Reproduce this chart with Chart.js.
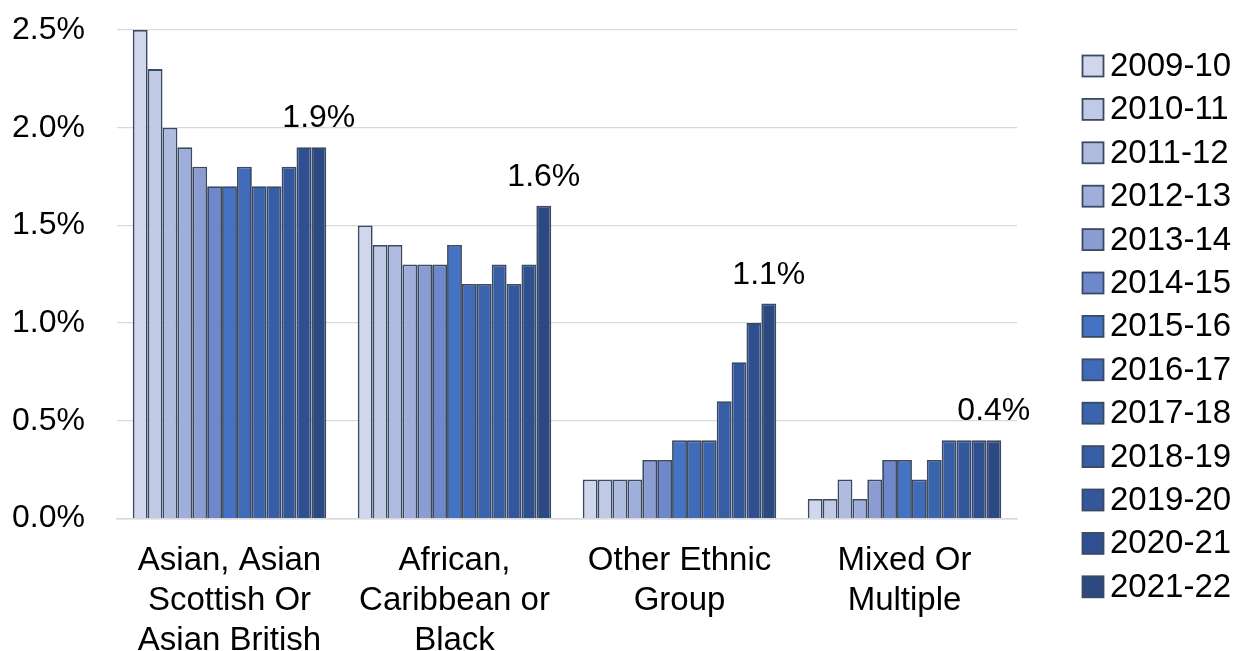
<!DOCTYPE html>
<html>
<head>
<meta charset="utf-8">
<script src="https://cdn.jsdelivr.net/npm/chart.js@4/dist/chart.umd.min.js"></script>
<style>
  html, body { margin: 0; padding: 0; background: #fff; }
  #wrap { width: 1237px; height: 651px; position: relative; }
</style>
</head>
<body>
<div id="wrap"><canvas id="c" width="1237" height="651"></canvas></div>
<script>
// Ethnic groups on the x axis (multi-line labels)
const groups = [
  ['Asian, Asian', 'Scottish Or', 'Asian British'],
  ['African,', 'Caribbean or', 'Black'],
  ['Other Ethnic', 'Group'],
  ['Mixed Or', 'Multiple']
];

// Academic years, one series each
const years = ['2009-10', '2010-11', '2011-12', '2012-13', '2013-14', '2014-15', '2015-16',
               '2016-17', '2017-18', '2018-19', '2019-20', '2020-21', '2021-22'];

// Share (%) per group, one value per year
const asian    = [2.5, 2.3, 2.0, 1.9, 1.8, 1.7, 1.7, 1.8, 1.7, 1.7, 1.8, 1.9, 1.9];
const african  = [1.5, 1.4, 1.4, 1.3, 1.3, 1.3, 1.4, 1.2, 1.2, 1.3, 1.2, 1.3, 1.6];
const other    = [0.2, 0.2, 0.2, 0.2, 0.3, 0.3, 0.4, 0.4, 0.4, 0.6, 0.8, 1.0, 1.1];
const mixed    = [0.1, 0.1, 0.2, 0.1, 0.2, 0.3, 0.3, 0.2, 0.3, 0.4, 0.4, 0.4, 0.4];

const yTicks = [0, 0.5, 1.0, 1.5, 2.0, 2.5];

const yearColours = ['#D0D6EC', '#C0C9E6', '#AFBCE0', '#9FAEDA', '#8A9CD2', '#6D88CB', '#4472C4',
                     '#3F6BB9', '#3B64AF', '#375DA5', '#33579A', '#2F5090', '#2C4982'];
const edge = '#3B4A63';
const FONT = '"Liberation Sans", Arial, sans-serif';

const datasets = years.map((y, i) => ({
  label: y,
  data: [asian[i], african[i], other[i], mixed[i]],
  backgroundColor: yearColours[i],
  borderColor: edge,
  borderWidth: 1.8,
  categoryPercentage: 0.86,
  barPercentage: 1.0
}));

// Value labels above the latest year's bars
const latestLabels = {
  id: 'latestLabels',
  afterDatasetsDraw(chart) {
    const ctx = chart.ctx;
    const last = chart.data.datasets.length - 1;
    const meta = chart.getDatasetMeta(last);
    ctx.save();
    ctx.font = '32px ' + FONT;
    ctx.fillStyle = '#000';
    ctx.textAlign = 'center';
    ctx.textBaseline = 'alphabetic';
    meta.data.forEach((bar, j) => {
      const v = chart.data.datasets[last].data[j];
      ctx.fillText(v.toFixed(1) + '%', bar.x, bar.y - 20);
    });
    ctx.restore();
  }
};

// Vertical key on the right
const sideKey = {
  id: 'sideKey',
  afterDraw(chart) {
    const ctx = chart.ctx;
    const ds = chart.data.datasets;
    const rowH = 43.4;
    const startY = 66;
    ctx.save();
    ctx.font = '33px ' + FONT;
    ctx.textBaseline = 'middle';
    ctx.textAlign = 'left';
    ds.forEach((d, i) => {
      const cy = startY + i * rowH;
      ctx.fillStyle = d.backgroundColor;
      ctx.fillRect(1082.5, cy - 10.5, 21, 21);
      ctx.strokeStyle = edge;
      ctx.lineWidth = 1.8;
      ctx.strokeRect(1082.5, cy - 10.5, 21, 21);
      ctx.fillStyle = '#000';
      ctx.fillText(d.label, 1110, cy + 1);
    });
    ctx.restore();
  }
};

new Chart(document.getElementById('c'), {
  type: 'bar',
  data: { labels: groups, datasets },
  plugins: [latestLabels, sideKey],
  options: {
    responsive: false,
    animation: false,
    layout: { padding: { left: 10, right: 220, top: 30, bottom: 0 } },
    plugins: {
      legend: { display: false },
      tooltip: { enabled: false }
    },
    scales: {
      x: {
        grid: { display: false },
        border: { display: true, color: '#D9D9D9', width: 1.5 },
        ticks: {
          color: '#000',
          font: { family: FONT, size: 33, lineHeight: 1.2 },
          padding: 15,
          maxRotation: 0,
          autoSkip: false
        },
        afterFit(scale) {
          scale.height = 132.5;
          scale.paddingLeft = 0;
          scale.paddingRight = 0;
        }
      },
      y: {
        min: 0,
        max: 2.5,
        afterBuildTicks(scale) { scale.ticks = yTicks.map(v => ({ value: v })); },
        grid: { color: '#D9D9D9', lineWidth: 1.25, drawTicks: false },
        border: { display: false },
        ticks: {
          color: '#000',
          font: { family: FONT, size: 32 },
          padding: 32,
          callback: v => Number(v).toFixed(1) + '%'
        },
        afterFit(scale) {
          scale.width = 107;
          scale.paddingTop = 0;
          scale.paddingBottom = 0;
        }
      }
    }
  }
});
</script>
</body>
</html>
